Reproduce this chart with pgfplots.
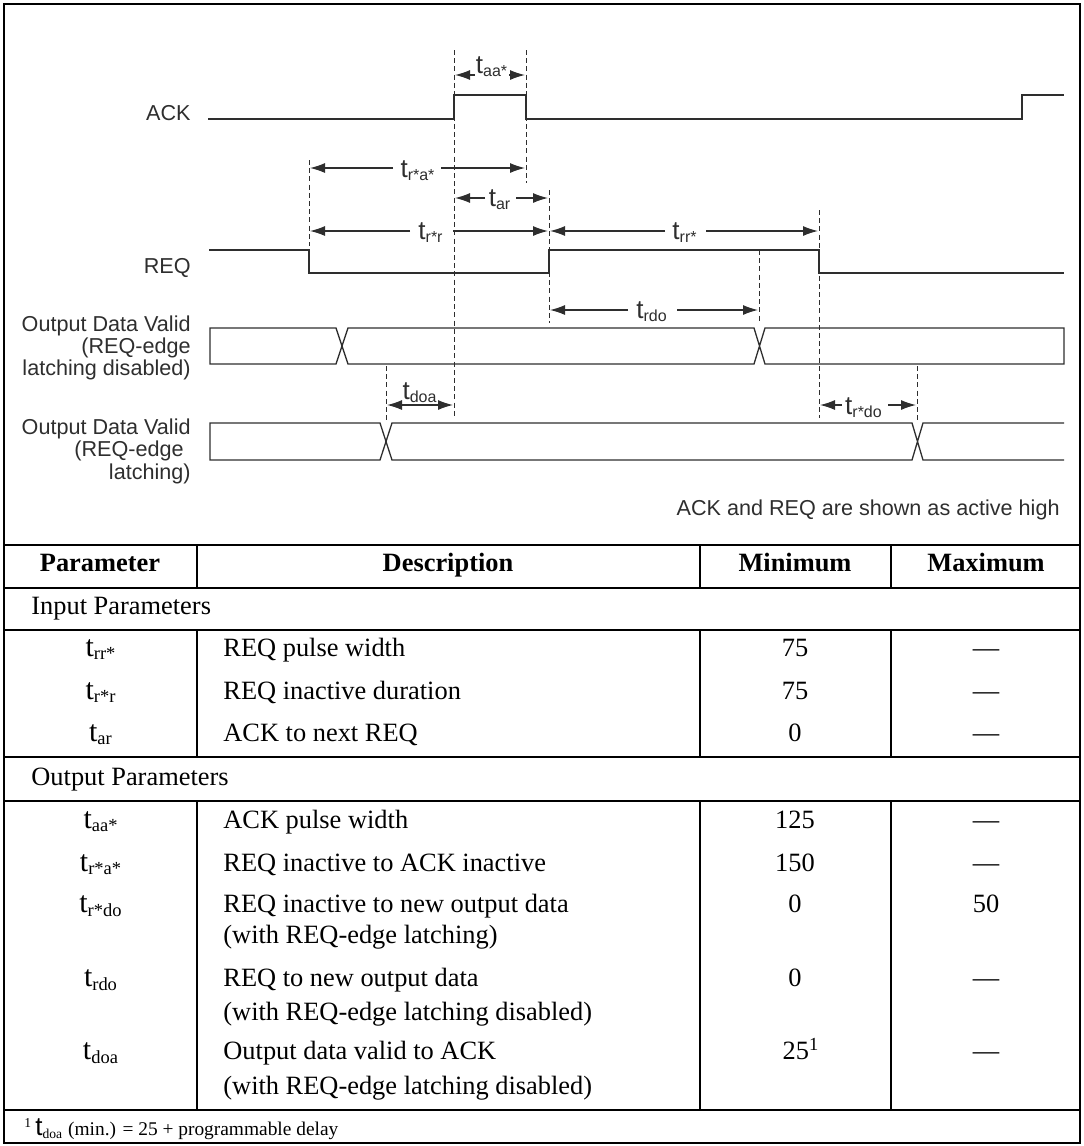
\documentclass[border=0pt]{standalone}
\usepackage{pgfplots}
\pgfplotsset{compat=1.18}
\usepackage{fontspec}
\setmainfont{Liberation Serif}
\newfontfamily\hv{Liberation Sans}
\usetikzlibrary{arrows.meta}
\definecolor{diag}{HTML}{2E2E2E}
\newcommand{\sig}{\hv\fontsize{10.8}{13}\selectfont}
\newcommand{\tlab}{\hv\fontsize{12}{14}\selectfont}
\newcommand{\tb}{\fontsize{13.2}{15}\selectfont}
\newcommand{\fn}{\fontsize{9.7}{12}\selectfont}
\newcommand{\dt}{{\fontsize{13}{15}\selectfont t}}
\newcommand{\pt}{{\fontsize{15}{17}\selectfont t}}
\tikzset{
  sigl/.style={diag, line width=0.65pt, line join=miter},
  dsh/.style={diag, line width=0.5pt, dash pattern=on 2.5pt off 1.6pt},
  arr/.style={diag, line width=0.6pt, -{Latex[length=7.5pt,width=5pt]}},
  dbl/.style={diag, line width=0.6pt, {Latex[length=7.5pt,width=5pt]}-{Latex[length=7.5pt,width=5pt]}},
  tline/.style={black, line width=1.1pt},
  lab/.style={font=\tlab, text=diag, anchor=base, inner sep=0pt},
  sname/.style={font=\sig, text=diag, anchor=base east, inner sep=0pt},
  cell/.style={font=\tb, text=black, anchor=base, inner sep=0pt},
  desc/.style={font=\tb, text=black, anchor=base west, inner sep=0pt},
}
\begin{document}
\begin{tikzpicture}
\begin{axis}[width=541.5pt,height=573pt,scale only axis,
  xmin=0,xmax=1083,ymin=0,ymax=1146,y dir=reverse,
  hide axis,clip=false]
\path (axis cs:0,0) rectangle (axis cs:1083,1146);
% ---------------- signals ----------------
\addplot[sigl] coordinates {(208,119) (454,119) (454,95) (526,95) (526,119) (1022,119) (1022,95) (1064,95)};
\addplot[sigl] coordinates {(209,250) (309,250) (309,273) (549,273) (549,250) (819,250) (819,273) (1064,273)};
\addplot[sigl] coordinates {(210,346) (210,328) (336,328) (348,364) (754,364) (765,328) (1064,328) (1064,364) (765,364) (754,328) (348,328) (336,364) (210,364) (210,346)};
\addplot[sigl] coordinates {(1064,423) (923,423) (912,460) (392,460) (380,423) (210,423) (210,460) (380,460) (392,423) (912,423) (923,460) (1064,460)};
% ---------------- dashed markers ----------------
\addplot[dsh] coordinates {(454,50) (454,417)};
\addplot[dsh] coordinates {(526,50) (526,183)};
\addplot[dsh] coordinates {(309,160) (309,246)};
\addplot[dsh] coordinates {(549,190) (549,323)};
\addplot[dsh] coordinates {(759,250) (759,323)};
\addplot[dsh] coordinates {(819,210) (819,418)};
\addplot[dsh] coordinates {(386,366) (386,423)};
\addplot[dsh] coordinates {(917,366) (917,423)};
% ---------------- dimension arrows ----------------
\addplot[arr] coordinates {(475,75) (455,75)};
\addplot[arr] coordinates {(509,75) (525,75)};
\addplot[arr] coordinates {(393,168) (310,168)};
\addplot[arr] coordinates {(441,168) (525,168)};
\addplot[arr] coordinates {(485,198) (455,198)};
\addplot[arr] coordinates {(516,198) (548,198)};
\addplot[arr] coordinates {(410,231) (310,231)};
\addplot[arr] coordinates {(453,231) (548,231)};
\addplot[arr] coordinates {(665,231) (550,231)};
\addplot[arr] coordinates {(706,231) (818,231)};
\addplot[arr] coordinates {(628,310) (550,310)};
\addplot[arr] coordinates {(677,310) (758,310)};
\addplot[arr] coordinates {(842,405) (820,405)};
\addplot[arr] coordinates {(888,405) (916,405)};
\addplot[dbl] coordinates {(387,405) (453,405)};
% labels
\node[lab] at (axis cs:492,73) {\dt\textsubscript{aa*}};
\node[lab] at (axis cs:418,177) {\dt\textsubscript{r*a*}};
\node[lab] at (axis cs:500,206) {\dt\textsubscript{ar}};
\node[lab] at (axis cs:431,239) {\dt\textsubscript{r*r}};
\node[lab] at (axis cs:685,239) {\dt\textsubscript{rr*}};
\node[lab] at (axis cs:652,318) {\dt\textsubscript{rdo}};
\node[lab] at (axis cs:864,414) {\dt\textsubscript{r*do}};
\node[lab] at (axis cs:420,399) {\dt\textsubscript{doa}};
% signal names
\node[sname] at (axis cs:191,120) {ACK};
\node[sname] at (axis cs:191,273) {REQ};
\node[sname] at (axis cs:191,331) {Output Data Valid};
\node[sname] at (axis cs:191,353) {(REQ-edge};
\node[sname] at (axis cs:191,375) {latching disabled)};
\node[sname] at (axis cs:191,434) {Output Data Valid};
\node[sname] at (axis cs:184,456) {(REQ-edge};
\node[sname] at (axis cs:191,479) {latching)};
\node[sname] at (axis cs:1060,515) {ACK and REQ are shown as active high};
% ---------------- table ----------------
\draw[black, line width=1pt] (axis cs:4,4) rectangle (axis cs:1080,1143);
\addplot[tline] coordinates {(4,545) (1080,545)};
\addplot[tline] coordinates {(4,588) (1080,588)};
\addplot[tline] coordinates {(4,630) (1080,630)};
\addplot[tline] coordinates {(4,757) (1080,757)};
\addplot[tline] coordinates {(4,801) (1080,801)};
\addplot[tline] coordinates {(4,1110) (1080,1110)};
\addplot[tline] coordinates {(197,545) (197,588)};
\addplot[tline] coordinates {(700,545) (700,588)};
\addplot[tline] coordinates {(891,545) (891,588)};
\addplot[tline] coordinates {(197,630) (197,757)};
\addplot[tline] coordinates {(700,630) (700,757)};
\addplot[tline] coordinates {(891,630) (891,757)};
\addplot[tline] coordinates {(197,801) (197,1110)};
\addplot[tline] coordinates {(700,801) (700,1110)};
\addplot[tline] coordinates {(891,801) (891,1110)};
% header
\node[cell, font=\tb\bfseries] at (axis cs:100,571) {Parameter};
\node[cell, font=\tb\bfseries] at (axis cs:448,571) {Description};
\node[cell, font=\tb\bfseries] at (axis cs:795,571) {Minimum};
\node[cell, font=\tb\bfseries] at (axis cs:986,571) {Maximum};
\node[desc] at (axis cs:31,614) {Input Parameters};
% input rows
\node[cell] at (axis cs:101,656) {\pt\textsubscript{rr*}};
\node[desc] at (axis cs:223,656) {REQ pulse width};
\node[cell] at (axis cs:795,656) {75};
\node[cell] at (axis cs:986,656) {---};
\node[cell] at (axis cs:101,699) {\pt\textsubscript{r*r}};
\node[desc] at (axis cs:223,699) {REQ inactive duration};
\node[cell] at (axis cs:795,699) {75};
\node[cell] at (axis cs:986,699) {---};
\node[cell] at (axis cs:101,741) {\pt\textsubscript{ar}};
\node[desc] at (axis cs:223,741) {ACK to next REQ};
\node[cell] at (axis cs:795,741) {0};
\node[cell] at (axis cs:986,741) {---};
\node[desc] at (axis cs:31,785) {Output Parameters};
% output rows
\node[cell] at (axis cs:101,828) {\pt\textsubscript{aa*}};
\node[desc] at (axis cs:223,828) {ACK pulse width};
\node[cell] at (axis cs:795,828) {125};
\node[cell] at (axis cs:986,828) {---};
\node[cell] at (axis cs:101,871) {\pt\textsubscript{r*a*}};
\node[desc] at (axis cs:223,871) {REQ inactive to ACK inactive};
\node[cell] at (axis cs:795,871) {150};
\node[cell] at (axis cs:986,871) {---};
\node[cell] at (axis cs:101,912) {\pt\textsubscript{r*do}};
\node[desc] at (axis cs:223,912) {REQ inactive to new output data};
\node[desc] at (axis cs:223,943) {(with REQ-edge latching)};
\node[cell] at (axis cs:795,912) {0};
\node[cell] at (axis cs:986,912) {50};
\node[cell] at (axis cs:101,986) {\pt\textsubscript{rdo}};
\node[desc] at (axis cs:223,986) {REQ to new output data};
\node[desc] at (axis cs:223,1020) {(with REQ-edge latching disabled)};
\node[cell] at (axis cs:795,986) {0};
\node[cell] at (axis cs:986,986) {---};
\node[cell] at (axis cs:101,1059) {\pt\textsubscript{doa}};
\node[desc] at (axis cs:223,1059) {Output data valid to ACK};
\node[desc] at (axis cs:223,1094) {(with REQ-edge latching disabled)};
\node[cell] at (axis cs:801,1059) {25\textsuperscript{1}};
\node[cell] at (axis cs:986,1059) {---};
% footnote
\node[desc, font=\fn] at (axis cs:24,1135) {\textsuperscript{1}\,{\hv\fontsize{13}{15}\selectfont t}\textsubscript{doa} (min.) = 25 + programmable delay};
\end{axis}
\end{tikzpicture}
\end{document}
